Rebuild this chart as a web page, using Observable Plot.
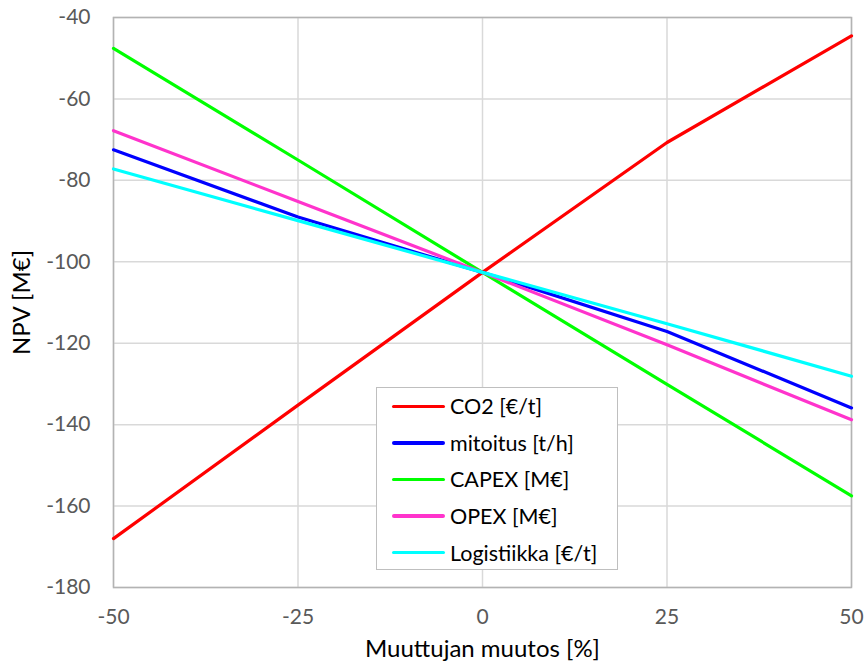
<!DOCTYPE html>
<html><head><meta charset="utf-8">
<script src="https://cdn.jsdelivr.net/npm/d3@7"></script>
<script src="https://cdn.jsdelivr.net/npm/@observablehq/plot@0.6"></script>
<style>
body{margin:0;background:#fff;font-family:Lato,"Open Sans",sans-serif;}
#wrap{position:relative;width:867px;height:664px;}
#legend{position:absolute;left:376px;top:387px;width:242px;height:183px;border:1.5px solid #bfbfbf;background:#fff;box-sizing:border-box;padding-top:0px;}
.row{display:flex;align-items:center;height:36.6px;font-size:21.5px;color:#000;}
.sw{width:53px;height:3.5px;margin-left:15px;margin-right:5px;border-radius:2px;}
</style></head>
<body><div id="wrap"></div>
<script>
const changes = [-50, -25, 0, 25, 50];
const seriesNames = ["CO2 [€/t]", "mitoitus [t/h]", "CAPEX [M€]", "OPEX [M€]", "Logistiikka [€/t]"];
const seriesColors = ["#ff0000", "#0000ff", "#00ff00", "#ff33cc", "#00ffff"];
const co2 = [-168.0, -135.2, -102.6, -70.7, -44.5];
const mitoitus = [-72.5, -89.0, -102.6, -117.1, -135.9];
const capex = [-47.6, -75.0, -102.6, -130.1, -157.5];
const opex = [-67.8, -85.2, -102.6, -120.4, -138.8];
const logistiikka = [-77.2, -89.9, -102.6, -115.2, -128.1];
const yTicks = [-180, -160, -140, -120, -100, -80, -60, -40];
const xTicks = [-50, -25, 0, 25, 50];

const allSeries = [co2, mitoitus, capex, opex, logistiikka];
const rows = [];
allSeries.forEach((s, i) => s.forEach((v, j) => rows.push({series: seriesNames[i], x: changes[j], y: v})));

const fmt = d => String(d);
const chart = Plot.plot({
  width: 867, height: 664,
  marginLeft: 113, marginRight: 16, marginTop: 17, marginBottom: 77,
  style: {fontFamily: "Lato, 'Open Sans', sans-serif", fontSize: "21px", color: "#595959", background: "#fff"},
  x: {domain: [-50, 50], ticks: xTicks},
  y: {domain: [-180, -40], ticks: yTicks},
  color: {domain: seriesNames, range: seriesColors},
  marks: [
    Plot.gridX(xTicks, {stroke: "#d9d9d9", strokeOpacity: 1, strokeWidth: 1.5}),
    Plot.gridY(yTicks, {stroke: "#d9d9d9", strokeOpacity: 1, strokeWidth: 1.5}),
    Plot.frame({stroke: "#b3b3b3", strokeWidth: 1.5}),
    Plot.axisX(xTicks, {tickSize: 0, tickPadding: 22, fontSize: 21, fill: "#595959", tickFormat: fmt, label: "Muuttujan muutos [%]", labelAnchor: "center", labelArrow: "none", labelOffset: 69}),
    Plot.axisY(yTicks, {tickSize: 0, tickPadding: 23, fontSize: 21, fill: "#595959", tickFormat: fmt, label: "NPV [M€]", labelAnchor: "center", labelArrow: "none", labelOffset: 101}),
    Plot.line(rows, {x: "x", y: "y", z: "series", stroke: "series", strokeWidth: 3.2})
  ]
});
d3.select(chart).selectAll("g[aria-label='x-axis label'] text, g[aria-label='y-axis label'] text").attr("fill", "#000").style("font-size", "24px");
const wrap = document.getElementById("wrap");
wrap.appendChild(chart);
const leg = document.createElement("div");
leg.id = "legend";
seriesNames.forEach((n, i) => {
  const r = document.createElement("div"); r.className = "row";
  const sw = document.createElement("div"); sw.className = "sw"; sw.style.background = seriesColors[i];
  const t = document.createElement("span"); t.textContent = n;
  r.appendChild(sw); r.appendChild(t); leg.appendChild(r);
});
wrap.appendChild(leg);
</script></body></html>
